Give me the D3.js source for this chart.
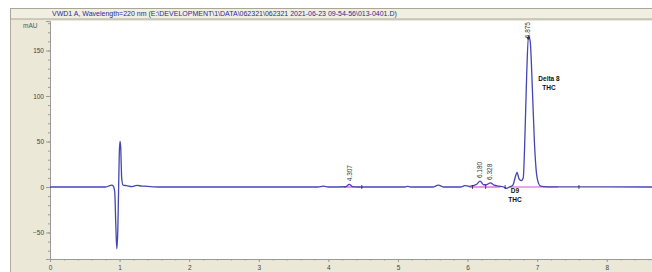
<!DOCTYPE html>
<html>
<head>
<meta charset="utf-8">
<script src="https://d3js.org/d3.v7.min.js"></script>
<style>
  body { margin: 0; background: #fff; }
  svg { display: block; font-family: "Liberation Sans", Arial, sans-serif; }
</style>
</head>
<body>
<div id="chart"></div>
<script>
// chromatogram trace: retention time (min) and signal (mAU)
var times = [0, 0.80, 0.86, 0.89, 0.91, 0.93, 0.945, 0.96, 0.975, 0.985, 0.995, 1.005, 1.015, 1.03, 1.05, 1.10, 1.18, 1.25, 1.32, 1.40, 1.50, 1.60,
  3.85, 3.93, 4.00, 4.25, 4.30, 4.35, 4.45, 5.10, 5.14, 5.18, 5.50, 5.58, 5.66, 5.90, 5.96, 6.02, 6.08, 6.13, 6.18, 6.23, 6.27, 6.33, 6.38, 6.45,
  6.52, 6.56, 6.60, 6.65, 6.69, 6.71, 6.74, 6.77, 6.80, 6.82, 6.85, 6.875, 6.90, 6.93, 6.96, 6.99, 7.02, 7.05, 7.15, 8.65];
var signal = [0, 0, 1.5, 2, 1, -5, -40, -68, -45, -5, 35, 50, 45, 10, 2, 1.5, 0.5, 1.8, 1, 0.8, 0.2, 0,
  0, 1, 0, 0.3, 3, 0.5, 0, 0, 0.6, 0, 0, 2, 0, 0, 1.5, 0.8, 1.5, 3, 6.5, 2.5, 2.5, 4.5, 2, 1,
  0, -1.5, 0, 2, 12, 16, 9, 7, 10, 45, 125, 166, 160, 110, 50, 15, 4, 1, 0.2, 0];

// integration baselines (start, end) in minutes
var baseStart = [4.22, 6.02, 6.26, 6.60];
var baseEnd = [4.45, 6.26, 6.47, 7.30];
// peak start/end markers
var markTimes = [4.48, 6.07, 6.26, 6.54, 7.60];

// labelled retention times
var rtLabels = ["4.307", "6.180", "6.328", "6.875"];
var rtTimes = [4.307, 6.18, 6.328, 6.875];
var rtValues = [3, 6.5, 4.5, 166];

var yTicks = [-50, 0, 50, 100, 150];
var xTicks = [0, 1, 2, 3, 4, 5, 6, 7, 8];

var W = 652, H = 272;
var pLeft = 50, pRight = 652, pTop = 21, pBottom = 259;

var svg = d3.select("#chart").append("svg").attr("width", W).attr("height", H);

// window frame
svg.append("rect").attr("x", 10).attr("y", 8).attr("width", W - 10).attr("height", H - 8).attr("fill", "#ebe8d8");
svg.append("line").attr("x1", 10.5).attr("x2", 10.5).attr("y1", 8).attr("y2", H).attr("stroke", "#b0ad9c");
svg.append("rect").attr("x", 10.5).attr("y", 8.5).attr("width", W).attr("height", 10.5)
  .attr("fill", "#f1efe2").attr("stroke", "#a9a697");
svg.append("text").attr("x", 52).attr("y", 16.3).attr("font-size", 7).attr("fill", "#2a2aa0")
  .text("VWD1 A, Wavelength=220 nm (E:\\DEVELOPMENT\\1\\DATA\\062321\\062321 2021-06-23 09-54-56\\013-0401.D)");

svg.append("rect").attr("x", pLeft).attr("y", pTop).attr("width", pRight - pLeft).attr("height", pBottom - pTop).attr("fill", "#fff");

var x = d3.scaleLinear().domain([0, 8.65]).range([pLeft, pRight]);
var y = d3.scaleLinear().domain([-79.1, 182.4]).range([pBottom, pTop]);

// y axis
svg.append("g").attr("transform", `translate(${pLeft},0)`)
  .call(d3.axisLeft(y).tickValues(yTicks).tickSize(4).tickPadding(2));
svg.append("g").attr("transform", `translate(${pLeft},0)`)
  .call(d3.axisLeft(y).tickValues(d3.range(-70, 181, 10)).tickSize(2).tickFormat(""))
  .select(".domain").remove();

// x axis
svg.append("g").attr("transform", `translate(0,${pBottom})`)
  .call(d3.axisBottom(x).tickValues(xTicks).tickSize(3).tickPadding(3));
svg.append("g").attr("transform", `translate(0,${pBottom})`)
  .call(d3.axisBottom(x).tickValues(d3.range(0, 8.65, 0.2)).tickSize(1.5).tickFormat(""))
  .select(".domain").remove();

svg.selectAll(".domain").attr("stroke", "#9a9a9a");
svg.selectAll(".tick line").attr("stroke", "#9a9a9a");
svg.selectAll(".tick text").attr("font-size", 6.5).attr("fill", "#444").attr("font-family", "Liberation Sans, Arial, sans-serif");

svg.append("text").attr("x", 23).attr("y", 28).attr("font-size", 6.5).attr("fill", "#555").text("mAU");

var plot = svg.append("g");

// integration baselines
plot.selectAll("line.base").data(baseStart).join("line").attr("class", "base")
  .attr("x1", d => x(d)).attr("x2", (d, i) => x(baseEnd[i]))
  .attr("y1", y(0)).attr("y2", y(0))
  .attr("stroke", "#d94ad9").attr("stroke-width", 1.2);

// trace
var pts = times.map((t, i) => [t, signal[i]]);
plot.append("path").datum(pts)
  .attr("fill", "none").attr("stroke", "#4545b5").attr("stroke-width", 1.3)
  .attr("d", d3.line().x(d => x(d[0])).y(d => y(d[1])).curve(d3.curveMonotoneX));

// peak markers
plot.selectAll("line.mark").data(markTimes).join("line").attr("class", "mark")
  .attr("x1", d => x(d)).attr("x2", d => x(d))
  .attr("y1", y(0) - 2).attr("y2", y(0) + 2)
  .attr("stroke", "#222").attr("stroke-width", 0.8);

// retention time labels
plot.selectAll("text.rt").data(rtLabels).join("text").attr("class", "rt")
  .attr("transform", (d, i) => `translate(${x(rtTimes[i]) + 2},${i == 3 ? pTop + 1 : y(rtValues[i]) - 3}) rotate(-90)`)
  .attr("text-anchor", (d, i) => i == 3 ? "end" : "start")
  .attr("font-size", 6.5).attr("fill", "#333")
  .text(d => d);
plot.append("circle").attr("cx", x(6.875)).attr("cy", 38).attr("r", 1.5).attr("fill", "#333");

// compound names
var names = [["Delta 8", "THC"], ["D9", "THC"]];
var nameX = [549, 515];
var nameY = [81, 193];
names.forEach(function (n, i) {
  n.forEach(function (s, j) {
    plot.append("text").attr("x", nameX[i]).attr("y", nameY[i] + j * 9)
      .attr("text-anchor", "middle").attr("font-size", 6.5).attr("font-weight", "bold").attr("fill", "#111")
      .text(s);
  });
});
</script>
</body>
</html>
